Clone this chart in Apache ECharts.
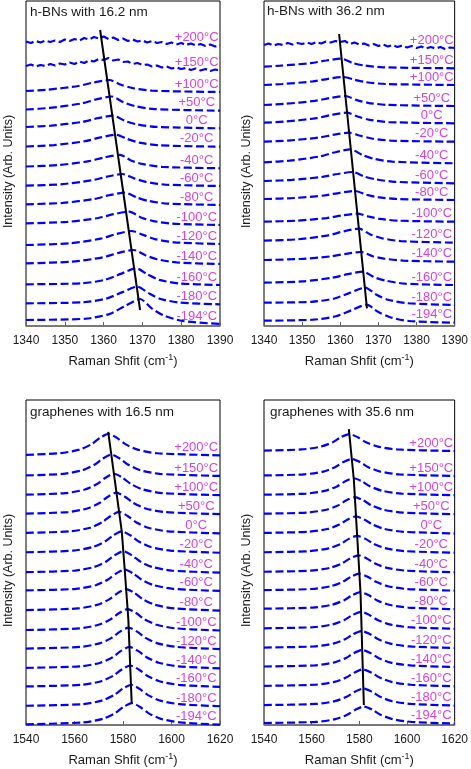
<!DOCTYPE html>
<html><head><meta charset="utf-8">
<script src="https://cdn.jsdelivr.net/npm/echarts@6/dist/echarts.min.js"></script>
<style>html,body{margin:0;padding:0;background:#fff}#c{width:471px;height:769px}</style>
</head><body><div id="c"></div>
<script>
// ---------- data ----------
const temps = ['+200°C','+150°C','+100°C','+50°C','0°C','-20°C','-40°C','-60°C','-80°C','-100°C','-120°C','-140°C','-160°C','-180°C','-194°C'];
const titles = ['h-BNs with 16.2 nm','h-BNs with 36.2 nm','graphenes with 16.5 nm','graphenes with 35.6 nm'];
const hbnAxis = [1340, 1390, 10];
const grAxis = [1540, 1620, 20];

// noisy spectra (x positions shared)
const noiseX = [1340,1341.25,1342.5,1343.75,1345,1346.25,1347.5,1348.75,1350,1351.25,1352.5,1353.75,1355,1356.25,1357.5,1358.75,1360,1361.25,1362.5,1363.75,1365,1366.25,1367.5,1368.75,1370,1371.25,1372.5,1373.75,1375,1376.25,1377.5,1378.75,1380,1381.25,1382.5,1383.75,1385,1386.25,1387.5,1388.75,1390];
const hbn162N200 = [284.5,283,285,283.5,285.5,284,285.5,284,286.5,285,287,285.5,288,286.5,289,287.5,289.5,287,288.5,286,287.5,285,286.5,284.5,285.5,283.5,285,283,284,282,283.5,281.5,283,281,282.5,280.5,282,280,281.5,279.5,281];
const hbn162N150 = [260,261.5,259.5,261,260,262,260.5,262.5,261.5,263.5,262,264.5,263,265.5,264.5,267,266,268,265.5,266.5,264,264.5,262,263,261,261.5,259.5,260.5,258.5,259.5,257.5,258.5,257,258,256,257.5,255.5,257,255,256.5,255.5];
const hbn362N200 = [281,282.5,280.5,282,281,283,281.5,283,282,283.5,282,284,282.5,284.5,283.5,285,284,285,282,283.5,281.5,282.5,280.5,282,280,281.5,279.5,281,279,280.5,278.5,280,278,279.5,277.5,279,277.5,279,277,278.5,278];

const hbn162 = [
 [[1340,235],[1345.5,236.3],[1353.5,240],[1357.5,243.6],[1361.5,246],[1364.5,241.2],[1367.5,237.9],[1372.5,235.3],[1390,234]],
 [[1340,216.5],[1346.1,218.1],[1354.1,222.4],[1358.1,226.6],[1362.1,229.5],[1365.1,223.8],[1368.1,219.9],[1373.1,216.9],[1390,215.3]],
 [[1340,199],[1346.5,200.4],[1354.5,204.1],[1358.5,207.8],[1362.5,210.3],[1365.5,205.1],[1368.5,201.7],[1373.5,199.1],[1390,197.7]],
 [[1340,179.5],[1347.2,180.9],[1355.2,184.8],[1359.2,188.6],[1363.2,191.2],[1366.2,186.9],[1369.2,183.4],[1374.2,180.7],[1390,179.3]],
 [[1340,159.5],[1348.2,160.9],[1356.2,164.8],[1360.2,168.6],[1364.2,171.2],[1367.2,165.3],[1370.2,161.8],[1375.2,159.1],[1390,157.7]],
 [[1340,140.3],[1348.9,141.7],[1356.9,145.6],[1360.9,149.4],[1364.9,152],[1367.9,147.6],[1370.9,144.1],[1375.9,141.4],[1390,140]],
 [[1340,121.7],[1349.5,123.1],[1357.5,127],[1361.5,130.8],[1365.5,133.4],[1368.5,128.6],[1371.5,125.1],[1376.5,122.4],[1390,121]],
 [[1340,102.7],[1350.6,104.1],[1358.6,108],[1362.6,111.8],[1366.6,114.4],[1369.6,108.6],[1372.6,105.1],[1377.6,102.4],[1390,101]],
 [[1340,81],[1351.2,82.7],[1359.2,87.3],[1363.2,91.9],[1367.2,95],[1370.2,91.1],[1373.2,86.9],[1378.2,83.7],[1390,82]],
 [[1340,62.7],[1351.8,64.3],[1359.8,68.7],[1363.8,73.1],[1367.8,76],[1370.8,70.7],[1373.8,66.7],[1378.8,63.6],[1390,62]],
 [[1340,41.7],[1354.4,42.7],[1360.4,46.2],[1364.4,52.1],[1368.4,57.7],[1371.4,51.4],[1374.4,46.1],[1379.4,42.6],[1390,41]],
 [[1340,22.7],[1354.7,23.7],[1360.7,27.4],[1364.7,33.6],[1368.7,39.4],[1371.7,32.6],[1374.7,27],[1379.7,23.4],[1390,21.7]],
 [[1340,6],[1355.4,7.3],[1361.4,11.9],[1365.4,19.7],[1369.4,27],[1372.4,17.7],[1375.4,10.7],[1380.4,5],[1390,2]]
];
const hbn362 = [
 [[1340,259.3],[1344.3,260.3],[1352.3,262.9],[1356.3,265.5],[1360.3,267.3],[1363.3,262.9],[1366.3,260.5],[1371.3,258.7],[1390,257.7]],
 [[1340,241],[1344.8,242],[1352.8,244.6],[1356.8,247.2],[1360.8,249],[1363.8,246.2],[1366.8,243.8],[1371.8,242],[1390,241]],
 [[1340,221],[1345.3,222.1],[1353.3,225.1],[1357.3,228],[1361.3,230],[1364.3,225.9],[1367.3,223.2],[1372.3,221.1],[1390,220]],
 [[1340,203.3],[1345.7,204.5],[1353.7,207.8],[1357.7,211.1],[1361.7,213.3],[1364.7,209.2],[1367.7,206.2],[1372.7,203.9],[1390,202.7]],
 [[1340,184.3],[1346.3,185.4],[1354.3,188.4],[1358.3,191.3],[1362.3,193.3],[1365.3,190.2],[1368.3,187.5],[1373.3,185.4],[1390,184.3]],
 [[1340,163.7],[1346.7,165.3],[1354.7,169.6],[1358.7,173.8],[1362.7,176.7],[1365.7,171.2],[1368.7,167.3],[1373.7,164.3],[1390,162.7]],
 [[1340,145],[1347.3,146.1],[1355.3,149.1],[1359.3,152],[1363.3,154],[1366.3,149.4],[1369.3,146.7],[1374.3,144.2],[1390,142.7]],
 [[1340,127],[1347.9,128],[1355.9,130.6],[1359.9,133.2],[1363.9,135],[1366.9,131.2],[1369.9,128.8],[1374.9,127],[1390,126]],
 [[1340,104.3],[1348.4,105.3],[1356.4,107.9],[1360.4,110.5],[1364.4,112.3],[1367.4,109.5],[1370.4,107.1],[1375.4,105.3],[1390,104.3]],
 [[1340,85.3],[1348.9,86.7],[1356.9,90.7],[1360.9,94.7],[1364.9,97.3],[1367.9,91.6],[1370.9,87.8],[1375.9,84.9],[1390,83.3]],
 [[1340,66],[1349.5,67],[1357.5,69.6],[1361.5,72.2],[1365.5,74],[1368.5,69.8],[1371.5,67.4],[1376.5,65.4],[1390,64.3]],
 [[1340,43.3],[1350,44.6],[1358,48.3],[1362,51.9],[1366,54.3],[1369,48.6],[1372,45.3],[1377,42.3],[1390,41]],
 [[1340,23.3],[1352.5,24.2],[1358.5,27.5],[1362.5,33.1],[1366.5,38.3],[1369.5,31.3],[1372.5,26.3],[1377.5,22.8],[1390,21]],
 [[1340,5.3],[1352.9,6.3],[1358.9,9.8],[1362.9,15.7],[1366.9,21.3],[1369.9,14.2],[1372.9,9],[1377.9,5],[1390,3.3]]
];
const gr165 = [
 [[1540,271],[1554,272.6],[1562,276.2],[1567,281.7],[1570.5,288],[1574,292],[1577.5,288],[1581,281.7],[1586,276.2],[1594,272.6],[1620,270.5]],
 [[1540,250.3],[1555.2,251.9],[1563.2,255.5],[1568.2,261],[1571.7,267.3],[1575.2,271.3],[1578.7,267.3],[1582.2,261],[1587.2,255.5],[1595.2,251.9],[1620,249.8]],
 [[1540,231],[1556.3,232.6],[1564.3,236.2],[1569.3,241.7],[1572.8,248],[1576.3,252],[1579.8,248],[1583.3,241.7],[1588.3,236.2],[1596.3,232.6],[1620,230.5]],
 [[1540,212],[1557.3,213.6],[1565.3,217.2],[1570.3,222.7],[1573.8,229],[1577.3,233],[1580.8,229],[1584.3,222.7],[1589.3,217.2],[1597.3,213.6],[1620,211.5]],
 [[1540,192.7],[1558.4,194.3],[1566.4,197.9],[1571.4,203.4],[1574.9,209.7],[1578.4,213.7],[1581.9,209.7],[1585.4,203.4],[1590.4,197.9],[1598.4,194.3],[1620,192.2]],
 [[1540,173.3],[1559.5,174.9],[1567.5,178.5],[1572.5,184],[1576,190.3],[1579.5,194.3],[1583,190.3],[1586.5,184],[1591.5,178.5],[1599.5,174.9],[1620,172.8]],
 [[1540,153.3],[1560.1,154.9],[1568.1,158.5],[1573.1,164],[1576.6,170.3],[1580.1,174.3],[1583.6,170.3],[1587.1,164],[1592.1,158.5],[1600.1,154.9],[1620,152.8]],
 [[1540,135],[1560.7,136.6],[1568.7,140.2],[1573.7,145.7],[1577.2,152],[1580.7,156],[1584.2,152],[1587.7,145.7],[1592.7,140.2],[1600.7,136.6],[1620,134.5]],
 [[1540,115.3],[1561.3,116.9],[1569.3,120.5],[1574.3,126],[1577.8,132.3],[1581.3,136.3],[1584.8,132.3],[1588.3,126],[1593.3,120.5],[1601.3,116.9],[1620,114.8]],
 [[1540,95.3],[1561.9,96.9],[1569.9,100.5],[1574.9,106],[1578.4,112.3],[1581.9,116.3],[1585.4,112.3],[1588.9,106],[1593.9,100.5],[1601.9,96.9],[1620,94.8]],
 [[1540,76.7],[1562.3,78.3],[1570.3,81.9],[1575.3,87.4],[1578.8,93.7],[1582.3,97.7],[1585.8,93.7],[1589.3,87.4],[1594.3,81.9],[1602.3,78.3],[1620,76.2]],
 [[1540,57.3],[1562.7,58.9],[1570.7,62.5],[1575.7,68],[1579.2,74.3],[1582.7,78.3],[1586.2,74.3],[1589.7,68],[1594.7,62.5],[1602.7,58.9],[1620,56.8]],
 [[1540,38.7],[1563,40.3],[1571,43.9],[1576,49.4],[1579.5,55.7],[1583,59.7],[1586.5,55.7],[1590,49.4],[1595,43.9],[1603,40.3],[1620,38.2]],
 [[1540,19.3],[1563.3,20.9],[1571.3,24.5],[1576.3,30],[1579.8,36.3],[1583.3,40.3],[1586.8,36.3],[1590.3,30],[1595.3,24.5],[1603.3,20.9],[1620,18.8]],
 [[1540,0.7],[1563.6,2.6],[1571.6,6.2],[1576.6,11.7],[1580.1,18],[1583.6,22],[1587.1,18],[1590.6,11.7],[1595.6,6.2],[1603.6,2.6],[1620,0.3]]
];
const gr356 = [
 [[1540,275.3],[1555.8,276.4],[1563.8,279.2],[1568.8,283.6],[1572.3,288.7],[1575.8,291.8],[1579.3,288.7],[1582.8,283.6],[1587.8,279.2],[1595.8,276.4],[1620,274.8]],
 [[1540,250.3],[1556.8,251.4],[1564.8,254.2],[1569.8,258.6],[1573.3,263.7],[1576.8,266.8],[1580.3,263.7],[1583.8,258.6],[1588.8,254.2],[1596.8,251.4],[1620,249.8]],
 [[1540,231],[1557.6,232.1],[1565.6,234.9],[1570.6,239.3],[1574.1,244.4],[1577.6,247.5],[1581.1,244.4],[1584.6,239.3],[1589.6,234.9],[1597.6,232.1],[1620,230.5]],
 [[1540,212],[1558.1,213.1],[1566.1,215.9],[1571.1,220.3],[1574.6,225.4],[1578.1,228.5],[1581.6,225.4],[1585.1,220.3],[1590.1,215.9],[1598.1,213.1],[1620,211.5]],
 [[1540,192.7],[1558.6,193.8],[1566.6,196.6],[1571.6,201],[1575.1,206.1],[1578.6,209.2],[1582.1,206.1],[1585.6,201],[1590.6,196.6],[1598.6,193.8],[1620,192.2]],
 [[1540,173.3],[1559.1,174.4],[1567.1,177.2],[1572.1,181.6],[1575.6,186.7],[1579.1,189.8],[1582.6,186.7],[1586.1,181.6],[1591.1,177.2],[1599.1,174.4],[1620,172.8]],
 [[1540,153.7],[1559.6,154.8],[1567.6,157.6],[1572.6,162],[1576.1,167.1],[1579.6,170.2],[1583.1,167.1],[1586.6,162],[1591.6,157.6],[1599.6,154.8],[1620,153.2]],
 [[1540,135.3],[1560,136.4],[1568,139.2],[1573,143.6],[1576.5,148.7],[1580,151.8],[1583.5,148.7],[1587,143.6],[1592,139.2],[1600,136.4],[1620,134.8]],
 [[1540,116.7],[1560.5,117.8],[1568.5,120.6],[1573.5,125],[1577,130.1],[1580.5,133.2],[1584,130.1],[1587.5,125],[1592.5,120.6],[1600.5,117.8],[1620,116.2]],
 [[1540,97],[1560.7,98.1],[1568.7,100.9],[1573.7,105.3],[1577.2,110.4],[1580.7,113.5],[1584.2,110.4],[1587.7,105.3],[1592.7,100.9],[1600.7,98.1],[1620,96.5]],
 [[1540,77.7],[1561,78.8],[1569,81.6],[1574,86],[1577.5,91.1],[1581,94.2],[1584.5,91.1],[1588,86],[1593,81.6],[1601,78.8],[1620,77.2]],
 [[1540,58.7],[1561.2,59.8],[1569.2,62.6],[1574.2,67],[1577.7,72.1],[1581.2,75.2],[1584.7,72.1],[1588.2,67],[1593.2,62.6],[1601.2,59.8],[1620,58.2]],
 [[1540,39.3],[1561.5,40.4],[1569.5,43.2],[1574.5,47.6],[1578,52.7],[1581.5,55.8],[1585,52.7],[1588.5,47.6],[1593.5,43.2],[1601.5,40.4],[1620,38.8]],
 [[1540,20],[1561.7,21.1],[1569.7,23.9],[1574.7,28.3],[1578.2,33.4],[1581.7,36.5],[1585.2,33.4],[1588.7,28.3],[1593.7,23.9],[1601.7,21.1],[1620,19.5]],
 [[1540,2],[1561.9,3.1],[1569.9,5.9],[1574.9,10.3],[1578.4,15.4],[1581.9,18.5],[1585.4,15.4],[1588.9,10.3],[1593.9,5.9],[1601.9,3.1],[1620,1.5]]
];
// peak-position guide lines
const hbn162Fit = [[1359.1,296],[1369.4,16]];
const hbn362Fit = [[1359.7,292],[1367.0,17.7]];
const gr165Fit = [[1573.9,294],[1579.5,194],[1580.8,153],[1582.2,106],[1583.6,21]];
const gr356Fit = [[1575.6,296.7],[1577.7,246],[1579.1,189.3],[1580.5,132.7],[1581.9,20]];

// ---------- build ----------
const zip = (xs, ys) => xs.map((x, i) => [x, ys[i]]);
const panelCurves = [
  [zip(noiseX, hbn162N200), zip(noiseX, hbn162N150)].concat(hbn162),
  [zip(noiseX, hbn362N200)].concat(hbn362),
  gr165,
  gr356
];
const fits = [hbn162Fit, hbn362Fit, gr165Fit, gr356Fit];
const axes = [hbnAxis, hbnAxis, grAxis, grAxis];
const noisyCount = [2, 1, 0, 0];

const FONT = "'Liberation Sans', Arial, Helvetica, sans-serif";
const layout = [
  {left: 26, top: 1, width: 194, height: 325, tx: 30, ty: 5, labelX: 1384},
  {left: 264, top: 1, width: 193, height: 325, tx: 267, ty: 4, labelX: 1384},
  {left: 26, top: 400, width: 194, height: 326, tx: 30, ty: 405, labelX: 1610.2},
  {left: 264, top: 400, width: 193, height: 326, tx: 270, ty: 405, labelX: 1610.2}
];

const grid = [], xAxis = [], yAxis = [], series = [], title = [];
layout.forEach((L, i) => {
  grid.push({left: L.left, top: L.top, width: L.width, height: L.height, show: true,
    borderColor: '#000', borderWidth: 1, backgroundColor: 'transparent'});
  title.push({text: titles[i], left: L.tx, top: L.ty, padding: 0,
    textStyle: {fontFamily: FONT, fontSize: 13.5, fontWeight: 'normal', color: '#1a1a1a'}});
  const ax = axes[i];
  xAxis.push({gridIndex: i, type: 'value', min: ax[0], max: ax[1], interval: ax[2],
    name: 'Raman Shfit (cm{sup|-1})', nameLocation: 'middle', nameGap: 27,
    nameTextStyle: {fontFamily: FONT, fontSize: 13, color: '#1a1a1a', lineHeight: 16,
      rich: {sup: {fontFamily: FONT, fontSize: 9, lineHeight: 9, verticalAlign: 'top', color: '#1a1a1a'}}},
    axisLine: {show: true, lineStyle: {color: '#777', width: 1.5}},
    axisTick: {show: true, inside: true, length: 4, lineStyle: {color: '#666'}},
    axisLabel: {fontFamily: FONT, fontSize: 12, color: '#1a1a1a', margin: 9, formatter: v => String(v)},
    splitLine: {show: false}});
  yAxis.push({gridIndex: i, type: 'value', min: 0, max: L.height,
    name: 'Intensity (Arb. Units)', nameLocation: 'middle', nameGap: 11,
    nameTextStyle: {fontFamily: FONT, fontSize: 12.5, color: '#1a1a1a', padding: [0, 16, 0, 0]},
    axisLine: {show: false}, axisTick: {show: false}, axisLabel: {show: false}, splitLine: {show: false}});
  const curves = panelCurves[i];
  curves.forEach((c, k) => {
    series.push({type: 'line', xAxisIndex: i, yAxisIndex: i, data: c,
      smooth: k < noisyCount[i] ? false : 0.25, symbol: 'none', silent: true, z: 2,
      lineStyle: {color: '#0000ff', width: 2.2, type: [8, 3.5]}});
  });
  series.push({type: 'line', xAxisIndex: i, yAxisIndex: i, data: fits[i], symbol: 'none',
    silent: true, z: 3, lineStyle: {color: '#000', width: 2}});
  series.push({type: 'scatter', xAxisIndex: i, yAxisIndex: i, symbolSize: 1, silent: true, z: 4,
    itemStyle: {color: 'transparent'},
    data: curves.map((c, k) => ({name: temps[k], value: [L.labelX, c[c.length - 1][1]]})),
    label: {show: true, position: 'inside', offset: [0, -8], formatter: '{b}',
      fontFamily: FONT, fontSize: 13, color: '#cc11cc'}});
});

const chart = echarts.init(document.getElementById('c'), null, {renderer: 'canvas'});
chart.setOption({animation: false, backgroundColor: '#fff', title, grid, xAxis, yAxis, series});
</script></body></html>
